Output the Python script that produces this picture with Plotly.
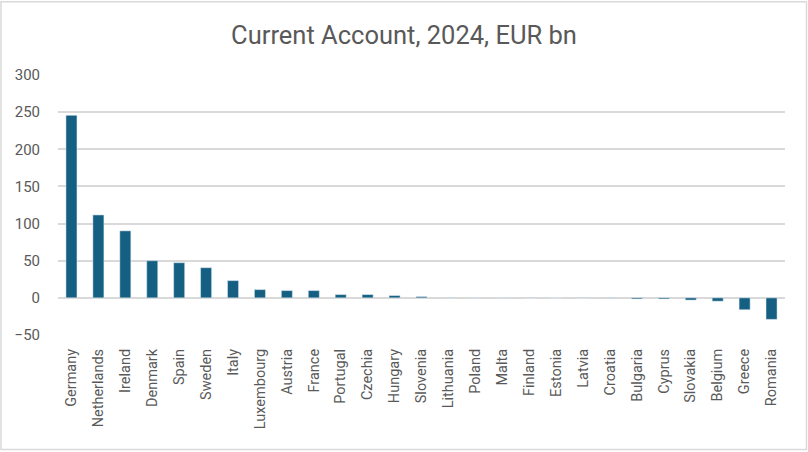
import plotly.graph_objects as go

countries = ["Germany", "Netherlands", "Ireland", "Denmark", "Spain", "Sweden", "Italy",
             "Luxembourg", "Austria", "France", "Portugal", "Czechia", "Hungary", "Slovenia",
             "Lithuania", "Poland", "Malta", "Finland", "Estonia", "Latvia", "Croatia",
             "Bulgaria", "Cyprus", "Slovakia", "Belgium", "Greece", "Romania"]
values = [245.7, 111.6, 90.2, 50.0, 47.3, 40.6, 23.2,
          11.1, 9.8, 9.8, 4.4, 4.4, 3.1, 1.7,
          0.3, 0.2, 0.2, -0.2, -0.1, -0.2, -0.3,
          -1.5, -1.5, -3.0, -4.5, -16.0, -29.0]
y_ticks = [-50, 0, 50, 100, 150, 200, 250, 300]
title_text = "Current Account, 2024, EUR bn"

L, R, T, B = 58, 23, 74.5, 116.5
PW, PH = 808 - L - R, 452 - T - B

fig = go.Figure(go.Bar(x=countries, y=values, marker_color="#156082", width=0.41))

fig.update_layout(
    width=808, height=452,
    paper_bgcolor="white", plot_bgcolor="white",
    margin=dict(l=L, r=R, t=T, b=B, pad=0, autoexpand=False),
    title=dict(text=title_text, x=0.5, xanchor="center", y=1 - 35 / 452, yanchor="middle",
               font=dict(family="Roboto", size=25.5, color="#595959")),
    font=dict(family="Roboto", color="#595959"),
    showlegend=False,
    bargap=0.59,
)
fig.update_yaxes(range=[-50, 300], tickvals=y_ticks, showgrid=True, gridcolor="#D9D9D9",
                 gridwidth=2, zeroline=True, zerolinecolor="#D9D9D9", zerolinewidth=2,
                 tickfont=dict(family="Roboto", size=15, color="#595959"), ticklabelstandoff=17,
                 showline=False, automargin=False)
fig.update_xaxes(tickangle=-90, tickfont=dict(family="Roboto", size=14.5, color="#595959"),
                 showline=False, ticks="", ticklabelstandoff=10, automargin=False)
fig.add_shape(type="rect", xref="paper", yref="paper",
              x0=(-L + 1) / PW, x1=1 + (R - 1.5) / PW,
              y0=(-B + 1.5) / PH, y1=1 + (T - 1) / PH,
              line=dict(color="#D9D9D9", width=1.5),
              fillcolor="rgba(0,0,0,0)", layer="below")

fig.write_html("out.html", config={"displayModeBar": False},
               post_script="document.body.style.margin='0';")
